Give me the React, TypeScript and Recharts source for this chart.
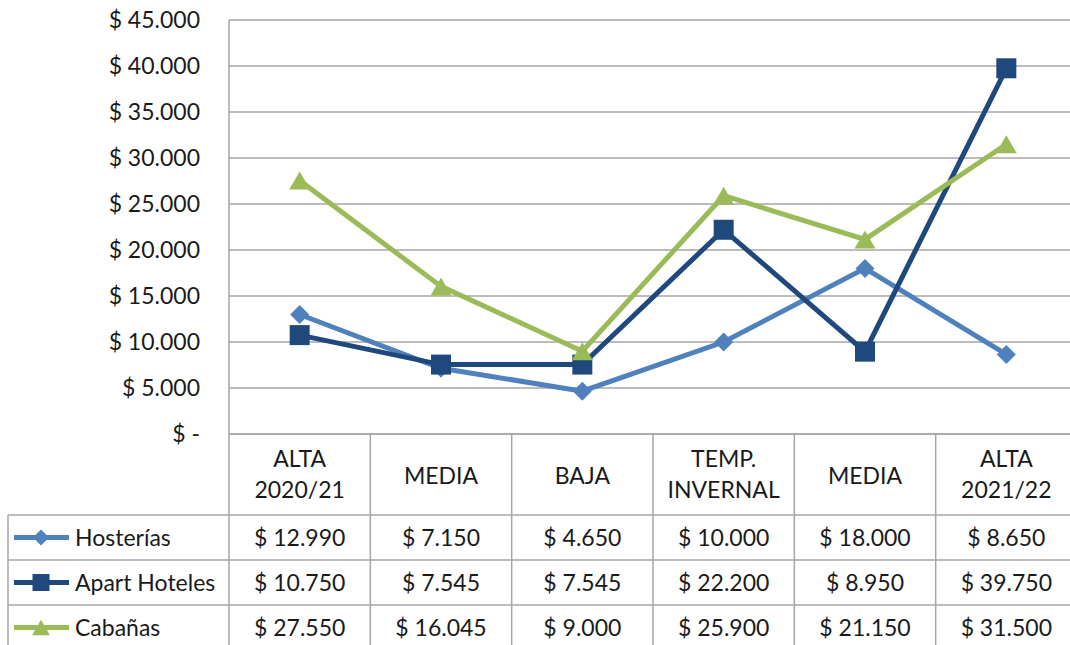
import { LineChart, Line, XAxis, YAxis, CartesianGrid } from "recharts";

const categories = ["ALTA\n2020/21", "MEDIA", "BAJA", "TEMP.\nINVERNAL", "MEDIA", "ALTA\n2021/22"];
const hosterias = [12990, 7150, 4650, 10000, 18000, 8650];
const apartHoteles = [10750, 7545, 7545, 22200, 8950, 39750];
const cabanas = [27550, 16045, 9000, 25900, 21150, 31500];
const yTicks = [0, 5000, 10000, 15000, 20000, 25000, 30000, 35000, 40000, 45000];

const series = [
    { key: "hosterias", name: "Hosterías", color: "#4F81BD", shape: "diamond", values: hosterias },
    { key: "apart", name: "Apart Hoteles", color: "#1F497D", shape: "square", values: apartHoteles },
    { key: "cabanas", name: "Cabañas", color: "#9BBB59", shape: "triangle", values: cabanas },
];

const data = categories.map((cat, i) => {
    const row: any = { cat };
    series.forEach((s) => (row[s.key] = s.values[i]));
    return row;
});

const CHART_W = 1090;
const CHART_H = 645;
const LEFT = 229;
const RIGHT_M = 13;
const TOP = 20;
const AXIS_H = 211;
const PLOT_BOTTOM = CHART_H - AXIS_H;
const COL_W = (CHART_W - LEFT - RIGHT_M) / categories.length;
const ROW_LINES = [515, 560, 605];
const ROW_H = 45;
const GRID = "#A6A6A6";
const FONT = "Lato, 'Open Sans', sans-serif";
const FS = 23;

const fmt = (v: number) => String(v).replace(/\B(?=(\d{3})+(?!\d))/g, ".");
const money = (v: number) => (v === 0 ? "$ -" : `$ ${fmt(v)}`);

function Marker({ shape, cx, cy, color, big }: any) {
    const k = big ? 1 : 0.85;
    if (shape === "diamond") {
        const r = 9.5 * k;
        return <polygon points={`${cx},${cy - r} ${cx + r},${cy} ${cx},${cy + r} ${cx - r},${cy}`} fill={color} />;
    }
    if (shape === "square") {
        const h = 10 * k;
        return <rect x={cx - h} y={cy - h} width={h * 2} height={h * 2} fill={color} />;
    }
    const w = 10.5 * k;
    const h = 9 * k;
    return <polygon points={`${cx},${cy - h} ${cx + w},${cy + h} ${cx - w},${cy + h}`} fill={color} />;
}

function YTick({ x, y, payload }: any) {
    return (
        <text x={x - 21} y={y + 8} textAnchor="end" fontSize={FS} fontFamily={FONT} fill="#1a1a1a">
            {money(payload.value)}
        </text>
    );
}

function TableTick(props: any) {
    const { x, payload } = props;
    const i = payload.index ?? props.index;
    const left = x - COL_W / 2;
    const lines = String(payload.value).split("\n");
    const headerBase = lines.length > 1 ? [467, 498] : [484];
    return (
        <g>
            {i === 0 && (
                <g>
                    {ROW_LINES.map((ly) => (
                        <line key={ly} x1={8} x2={CHART_W - RIGHT_M} y1={ly} y2={ly} stroke={GRID} strokeWidth={1.5} />
                    ))}
                    <line x1={8} x2={8} y1={ROW_LINES[0]} y2={CHART_H} stroke={GRID} strokeWidth={1.5} />
                    {series.map((s, r) => {
                        const cy = ROW_LINES[0] + ROW_H * r + ROW_H / 2;
                        return (
                            <g key={s.key}>
                                <line x1={14} x2={69} y1={cy} y2={cy} stroke={s.color} strokeWidth={5} />
                                <Marker shape={s.shape} cx={41} cy={cy} color={s.color} />
                                <text x={75} y={cy + 8} fontSize={FS} fontFamily={FONT} fill="#1a1a1a">
                                    {s.name}
                                </text>
                            </g>
                        );
                    })}
                </g>
            )}
            <line x1={left} x2={left} y1={PLOT_BOTTOM} y2={CHART_H} stroke={GRID} strokeWidth={1.5} />
            {i === categories.length - 1 && (
                <line x1={left + COL_W} x2={left + COL_W} y1={PLOT_BOTTOM} y2={CHART_H} stroke={GRID} strokeWidth={1.5} />
            )}
            {lines.map((t, k) => (
                <text key={k} x={x} y={headerBase[k]} textAnchor="middle" fontSize={FS} fontFamily={FONT} fill="#1a1a1a">
                    {t}
                </text>
            ))}
            {series.map((s, r) => (
                <text
                    key={s.key}
                    x={x}
                    y={ROW_LINES[0] + ROW_H * r + ROW_H / 2 + 8}
                    textAnchor="middle"
                    fontSize={FS}
                    fontFamily={FONT}
                    fill="#1a1a1a"
                >
                    {money(s.values[i])}
                </text>
            ))}
        </g>
    );
}

export default function App() {
    return (
        <div style={{ position: "absolute", left: 0, top: 0, width: 1070, height: 645, overflow: "hidden", background: "#fff" }}>
            <LineChart width={CHART_W} height={CHART_H} data={data} margin={{ top: TOP, right: RIGHT_M, left: 0, bottom: 0 }}>
                <CartesianGrid vertical={false} stroke={GRID} strokeWidth={1.5} />
                <XAxis
                    dataKey="cat"
                    height={AXIS_H}
                    interval={0}
                    padding={{ left: COL_W / 2, right: COL_W / 2 }}
                    tickLine={false}
                    axisLine={{ stroke: GRID, strokeWidth: 1.5 }}
                    tick={<TableTick />}
                />
                <YAxis
                    width={LEFT}
                    domain={[0, 45000]}
                    ticks={yTicks}
                    tickLine={false}
                    axisLine={{ stroke: GRID, strokeWidth: 1.5 }}
                    tick={<YTick />}
                />
                {series.map((s) => (
                    <Line
                        key={s.key}
                        type="linear"
                        dataKey={s.key}
                        name={s.name}
                        stroke={s.color}
                        strokeWidth={5}
                        isAnimationActive={false}
                        dot={(p: any) => <Marker key={p.index} shape={s.shape} cx={p.cx} cy={p.cy} color={s.color} big />}
                        activeDot={false}
                    />
                ))}
            </LineChart>
        </div>
    );
}
